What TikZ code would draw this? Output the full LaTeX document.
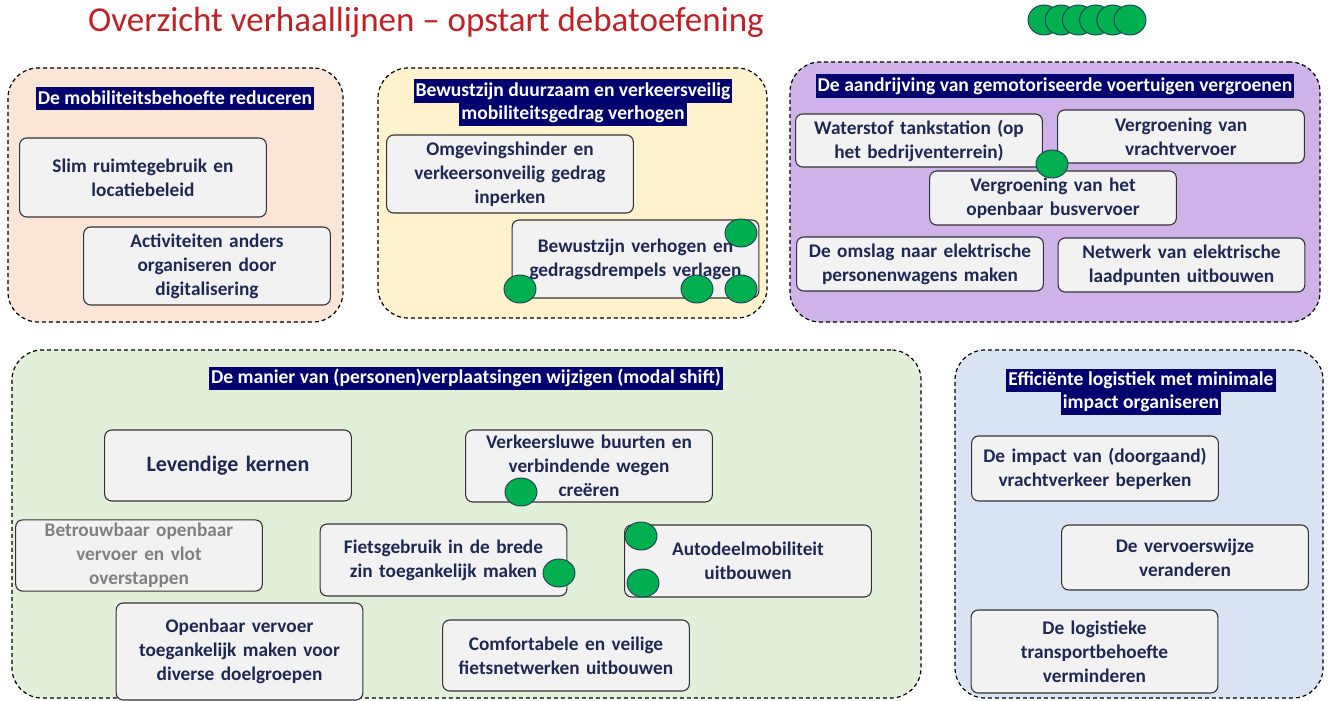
\documentclass[tikz,border=0pt]{standalone}
\usepackage{fontspec}
\setmainfont{Carlito}
\usetikzlibrary{shapes.geometric}
\definecolor{titlered}{RGB}{192,33,39}
\definecolor{hdrblue}{RGB}{0,0,110}
\definecolor{itemtext}{RGB}{31,40,85}
\definecolor{itemfill}{RGB}{242,242,242}
\definecolor{peach}{RGB}{251,229,214}
\definecolor{sand}{RGB}{255,242,204}
\definecolor{lilac}{RGB}{207,178,232}
\definecolor{mint}{RGB}{226,240,217}
\definecolor{sky}{RGB}{218,227,243}
\definecolor{dotgreen}{RGB}{0,176,80}
\definecolor{dotline}{RGB}{31,59,91}
\tikzset{x=1pt, y=-1pt,
  panel/.style={draw, dashed, dash pattern=on 4pt off 3pt, line width=1.2pt, rounded corners=30pt},
  hdr/.style={fill=hdrblue, text=white, inner xsep=2pt, inner ysep=0pt, minimum height=23pt,
    font=\fontsize{19.6pt}{23pt}\selectfont\bfseries},
  item/.style={draw=black!80, line width=1.1pt, fill=itemfill, rounded corners=7pt, text=itemtext,
    minimum width=246pt, text width=240pt, align=center, font=\fontsize{19.3pt}{24pt}\selectfont\bfseries},
  dot/.style={ellipse, draw=dotline, line width=0.9pt, fill=dotgreen, minimum width=32pt, minimum height=28pt, inner sep=0pt}}

\begin{document}
\begin{tikzpicture}
\useasboundingbox[fill=white] (0,0) rectangle (1328,701);

% titel en bollen
\node[anchor=base west, text=titlered, inner sep=0pt, font=\fontsize{35pt}{40pt}\selectfont] (title) at (88,32) {Overzicht verhaallijnen -- opstart debatoefening};
\foreach \i in {0,...,5}
  \node[dot, minimum height=30pt] (top\i) at (1044+17.2*\i,20) {};

% vlakken
\node[panel, fill=peach, minimum width=335pt, minimum height=254pt] (pMob) at (175.5,195) {};
\node[panel, fill=sand, minimum width=389pt, minimum height=250pt] (pGedrag) at (572.5,193) {};
\node[panel, fill=lilac, minimum width=530pt, minimum height=260pt] (pGroen) at (1055,192) {};
\node[panel, fill=mint, minimum width=909pt, minimum height=348pt] (pModal) at (466.5,524) {};
\node[panel, fill=sky, minimum width=368pt, minimum height=348pt] (pLog) at (1139,524) {};

% koppen
\node[hdr] (hMob) at (175,98) {De mobiliteitsbehoefte reduceren};
\node[hdr] (hGedrag1) at (573,91) {Bewustzijn duurzaam en verkeersveilig};
\node[hdr] (hGedrag2) at (573,114) {mobiliteitsgedrag verhogen};
\node[hdr] (hGroen) at (1055,86) {De aandrijving van gemotoriseerde voertuigen vergroenen};
\node[hdr] (hModal) at (466,378) {De manier van (personen)verplaatsingen wijzigen (modal shift)};
\node[hdr] (hLog1) at (1141,380) {Efficiënte logistiek met minimale};
\node[hdr] (hLog2) at (1141,403) {impact organiseren};

% verhaallijnen
\node[item, minimum height=79pt] (slim) at (143,177.5) {Slim ruimtegebruik en\\locatiebeleid};
\node[item, minimum height=78pt] (activ) at (207,266) {Activiteiten anders\\organiseren door\\digitalisering};
\node[item, minimum height=78pt] (omgev) at (510,174) {Omgevingshinder en\\verkeersonveilig gedrag\\inperken};
\node[item, minimum height=78pt] (bewust) at (635.5,259) {Bewustzijn verhogen en\\gedragsdrempels verlagen};
\node[item, minimum height=53pt] (water) at (919,140.5) {Waterstof tankstation (op\\het bedrijventerrein)};
\node[item, minimum height=53pt] (vracht) at (1181,136.5) {Vergroening van\\vrachtvervoer};
\node[item, minimum height=54pt] (bus) at (1053,198) {Vergroening van het\\openbaar busvervoer};
\node[item, minimum height=54pt] (omslag) at (920,264) {De omslag naar elektrische\\personenwagens maken};
\node[item, minimum height=54pt] (laad) at (1181.5,265) {Netwerk van elektrische\\laadpunten uitbouwen};
\node[item, minimum height=71pt, font=\fontsize{22pt}{26pt}\selectfont\bfseries] (kernen) at (228,465.5) {Levendige kernen};
\node[item, minimum height=72pt] (luw) at (589,466) {Verkeersluwe buurten en\\verbindende wegen\\creëren};
\node[item, minimum height=71pt, text=black!50] (betr) at (139,555.5) {Betrouwbaar openbaar\\vervoer en vlot\\overstappen};
\node[item, minimum height=72pt] (fiets) at (443.5,560) {Fietsgebruik in de brede\\zin toegankelijk maken};
\node[item, minimum height=72pt] (auto) at (748,561) {Autodeelmobiliteit\\uitbouwen};
\node[item, minimum height=97pt] (ov) at (239.5,651.5) {Openbaar vervoer\\toegankelijk maken voor\\diverse doelgroepen};
\node[item, minimum height=71pt] (comf) at (566,655.5) {Comfortabele en veilige\\fietsnetwerken uitbouwen};
\node[item, minimum height=65pt] (impact) at (1095,468.5) {De impact van (doorgaand)\\vrachtverkeer beperken};
\node[item, minimum height=65pt] (wijze) at (1185,557.5) {De vervoerswijze\\veranderen};
\node[item, minimum height=83pt] (logist) at (1094.5,651.5) {De logistieke\\transportbehoefte\\verminderen};

% bollen
\node[dot] (d1) at (741,233) {};
\node[dot] (d2) at (520,289) {};
\node[dot] (d3) at (697,289) {};
\node[dot] (d4) at (741,289) {};
\node[dot] (d5) at (1052,164) {};
\node[dot] (d6) at (521,492) {};
\node[dot] (d7) at (559,573) {};
\node[dot] (d8) at (641,536) {};
\node[dot] (d9) at (643,583) {};
\end{tikzpicture}
\end{document}
